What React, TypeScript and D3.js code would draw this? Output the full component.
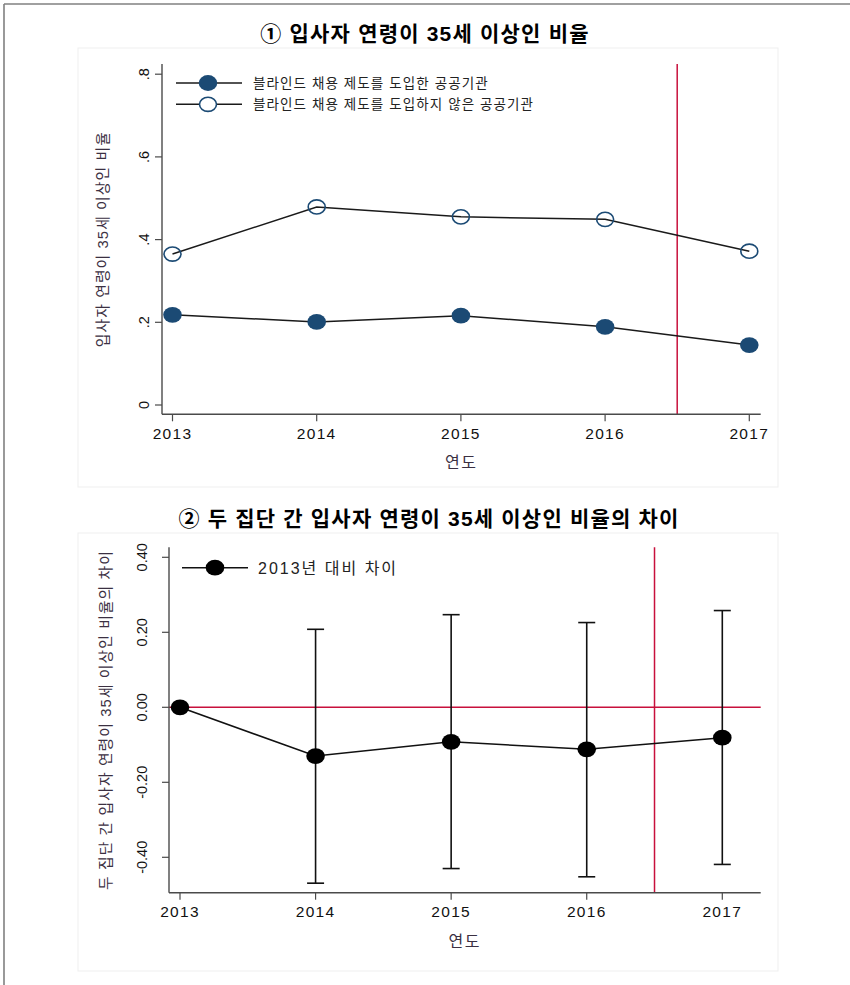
import React from "react";
import * as d3 from "d3";

// ---- data -------------------------------------------------------------
const years = [2013, 2014, 2015, 2016, 2017];
const yearLabels = ["2013", "2014", "2015", "2016", "2017"];

// share of new hires aged 35+ (panel 1)
const adoptedShare = [0.218, 0.201, 0.216, 0.189, 0.145];
const notAdoptedShare = [0.365, 0.479, 0.455, 0.449, 0.372];
const topYTicks = [0, 0.2, 0.4, 0.6, 0.8];
const topYTickLabels = ["0", ".2", ".4", ".6", ".8"];

// difference between groups relative to 2013 (panel 2)
const diffEstimate = [0, -0.13, -0.092, -0.112, -0.081];
const diffLower = [null, -0.469, -0.43, -0.452, -0.419];
const diffUpper = [null, 0.208, 0.247, 0.226, 0.258];
const bottomYTicks = [-0.4, -0.2, 0, 0.2, 0.4];
const bottomYTickLabels = ["-0.40", "-0.20", "0.00", "0.20", "0.40"];

const policyYear = 2016.5;

const title1 = "① 입사자 연령이 35세 이상인 비율";
const title2 = "② 두 집단 간 입사자 연령이 35세 이상인 비율의 차이";
const yTitle1 = "입사자 연령이 35세 이상인 비율";
const yTitle2 = "두 집단 간 입사자 연령이 35세 이상인 비율의 차이";
const xTitle = "연도";
const legendAdopted = "블라인드 채용 제도를 도입한 공공기관";
const legendNotAdopted = "블라인드 채용 제도를 도입하지 않은 공공기관";
const legendDiff = "2013년 대비 차이";

// ---- styling ------------------------------------------------------------
const FONT = "'Liberation Sans', 'Noto Sans CJK KR', sans-serif";
const NAVY = "#1b4a74";
const RED = "#c8103c";
const AXIS = "#4a4a4a";
const TITLE_GRAY = "#3b3042";

type AxisBox = { left: number; right: number; top: number; bottom: number };

function Axes({
  box,
  x,
  y,
  yTicks,
  yLabels,
  yLabelX,
  yTitle,
  yTitleX,
}: {
  box: AxisBox;
  x: d3.ScaleLinear<number, number>;
  y: d3.ScaleLinear<number, number>;
  yTicks: number[];
  yLabels: string[];
  yLabelX: number;
  yTitle: string;
  yTitleX: number;
}) {
  const midY = (box.top + box.bottom) / 2;
  const midX = (box.left + box.right) / 2;
  return (
    <g>
      <line x1={box.left} x2={box.left} y1={box.top} y2={box.bottom} stroke={AXIS} strokeWidth={1.4} />
      <line x1={box.left} x2={box.right} y1={box.bottom} y2={box.bottom} stroke={AXIS} strokeWidth={1.4} />
      {yTicks.map((t, i) => (
        <g key={"yt" + i}>
          <line x1={box.left - 7} x2={box.left} y1={y(t)} y2={y(t)} stroke={AXIS} strokeWidth={1.2} />
          <text
            transform={`translate(${yLabelX},${y(t)}) rotate(-90)`}
            textAnchor="middle"
            fontFamily={FONT}
            fontSize={14.5}
            fill="#111"
          >
            {yLabels[i]}
          </text>
        </g>
      ))}
      {years.map((yr, i) => (
        <g key={"xt" + i}>
          <line x1={x(yr)} x2={x(yr)} y1={box.bottom} y2={box.bottom + 7} stroke={AXIS} strokeWidth={1.2} />
          <text
            x={x(yr)}
            y={box.bottom + 24.5}
            textAnchor="middle"
            fontFamily={FONT}
            fontSize={15.5}
            letterSpacing={1.3}
            fill="#111"
          >
            {yearLabels[i]}
          </text>
        </g>
      ))}
      <text
        transform={`translate(${yTitleX},${midY}) rotate(-90)`}
        textAnchor="middle"
        fontFamily={FONT}
        fontSize={14.8}
        letterSpacing={1.1}
        fill={TITLE_GRAY}
      >
        {yTitle}
      </text>
      <text
        x={midX}
        y={box.bottom + 54}
        textAnchor="middle"
        fontFamily={FONT}
        fontSize={16}
        letterSpacing={1.5}
        fill={TITLE_GRAY}
      >
        {xTitle}
      </text>
    </g>
  );
}

const RX = 9.3;
const RY = 7.9;

export default function App() {
  // panel 1 scales
  const box1: AxisBox = { left: 162, right: 760.7, top: 64, bottom: 414.3 };
  const x1 = d3.scaleLinear().domain([2013, 2017]).range([172.5, 749.3]);
  const y1 = d3.scaleLinear().domain([0, 0.8]).range([405, 74.2]);

  // panel 2 scales
  const box2: AxisBox = { left: 169, right: 760.7, top: 547.3, bottom: 892.7 };
  const x2 = d3.scaleLinear().domain([2013, 2017]).range([180, 722.3]);
  const y2 = d3.scaleLinear().domain([-0.4, 0.4]).range([857.3, 557.3]);

  const line1 = d3
    .line<number>()
    .x((_, i) => x1(years[i]))
    .y((d) => y1(d));
  const line2 = d3
    .line<number>()
    .x((_, i) => x2(years[i]))
    .y((d) => y2(d));

  const capHalf = 8.5;

  return (
    <svg
      width={850}
      height={985}
      style={{ position: "absolute", left: 0, top: 0, background: "#fff" }}
    >
      <rect x={0} y={0} width={850} height={985} fill="#fff" />
      {/* outer frame */}
      <line x1={4} x2={850} y1={4} y2={4} stroke="#808080" strokeWidth={1.6} />
      <line x1={4} x2={4} y1={4} y2={985} stroke="#808080" strokeWidth={1.6} />

      {/* ---------- panel 1 ---------- */}
      <text x={425} y={41} textAnchor="middle" fontFamily={FONT} fontSize={21} fontWeight="bold" letterSpacing={1.2} fill="#000">
        {title1}
      </text>
      <rect x={78} y={48} width={700} height={439} fill="#fff" stroke="#efefef" strokeWidth={1} />
      <line
        x1={x1(policyYear)}
        x2={x1(policyYear)}
        y1={box1.top}
        y2={box1.bottom}
        stroke={RED}
        strokeWidth={1.5}
      />
      <Axes
        box={box1}
        x={x1}
        y={y1}
        yTicks={topYTicks}
        yLabels={topYTickLabels}
        yLabelX={149}
        yTitle={yTitle1}
        yTitleX={108}
      />
      <path d={line1(notAdoptedShare) || ""} fill="none" stroke="#1a1a1a" strokeWidth={1.5} />
      <path d={line1(adoptedShare) || ""} fill="none" stroke="#1a1a1a" strokeWidth={1.5} />
      {notAdoptedShare.map((v, i) => (
        <ellipse key={"h" + i} cx={x1(years[i])} cy={y1(v)} rx={RX - 0.8} ry={RY - 0.8} fill="none" stroke={NAVY} strokeWidth={1.6} />
      ))}
      {adoptedShare.map((v, i) => (
        <ellipse key={"f" + i} cx={x1(years[i])} cy={y1(v)} rx={RX} ry={RY} fill={NAVY} />
      ))}

      {/* legend, panel 1 */}
      <g>
        <line x1={176} x2={242} y1={83} y2={83} stroke="#1a1a1a" strokeWidth={1.5} />
        <ellipse cx={208} cy={83} rx={RX} ry={RY} fill={NAVY} />
        <text x={253} y={88} fontFamily={FONT} fontSize={13.5} letterSpacing={1.1} fill="#222">
          {legendAdopted}
        </text>
        <line x1={176} x2={242} y1={104.3} y2={104.3} stroke="#1a1a1a" strokeWidth={1.5} />
        <ellipse cx={208} cy={104.3} rx={RX - 0.8} ry={RY - 0.8} fill="#fff" stroke={NAVY} strokeWidth={1.6} />
        <text x={253} y={109.3} fontFamily={FONT} fontSize={13.5} letterSpacing={1.1} fill="#222">
          {legendNotAdopted}
        </text>
      </g>

      {/* ---------- panel 2 ---------- */}
      <text x={429} y={526} textAnchor="middle" fontFamily={FONT} fontSize={21} fontWeight="bold" letterSpacing={1.2} fill="#000">
        {title2}
      </text>
      <rect x={78} y={533} width={700} height={438} fill="#fff" stroke="#efefef" strokeWidth={1} />
      <line x1={box2.left} x2={box2.right} y1={y2(0)} y2={y2(0)} stroke={RED} strokeWidth={1.5} />
      <line
        x1={x2(policyYear)}
        x2={x2(policyYear)}
        y1={box2.top}
        y2={box2.bottom}
        stroke={RED}
        strokeWidth={1.5}
      />
      <Axes
        box={box2}
        x={x2}
        y={y2}
        yTicks={bottomYTicks}
        yLabels={bottomYTickLabels}
        yLabelX={147}
        yTitle={yTitle2}
        yTitleX={111}
      />
      {years.map((yr, i) => {
        const lo = diffLower[i];
        const hi = diffUpper[i];
        if (lo == null || hi == null) return null;
        const cx = x2(yr);
        return (
          <g key={"ci" + i} stroke="#111" strokeWidth={1.6}>
            <line x1={cx} x2={cx} y1={y2(hi)} y2={y2(lo)} />
            <line x1={cx - capHalf} x2={cx + capHalf} y1={y2(hi)} y2={y2(hi)} />
            <line x1={cx - capHalf} x2={cx + capHalf} y1={y2(lo)} y2={y2(lo)} />
          </g>
        );
      })}
      <path d={line2(diffEstimate) || ""} fill="none" stroke="#111" strokeWidth={1.6} />
      {diffEstimate.map((v, i) => (
        <ellipse key={"d" + i} cx={x2(years[i])} cy={y2(v)} rx={RX} ry={RY} fill="#000" />
      ))}

      {/* legend, panel 2 */}
      <g>
        <line x1={182} x2={248} y1={567.7} y2={567.7} stroke="#111" strokeWidth={1.6} />
        <ellipse cx={215} cy={567.7} rx={RX} ry={RY} fill="#000" />
        <text x={258} y={573.5} fontFamily={FONT} fontSize={16} letterSpacing={2} fill="#222">
          {legendDiff}
        </text>
      </g>
    </svg>
  );
}
